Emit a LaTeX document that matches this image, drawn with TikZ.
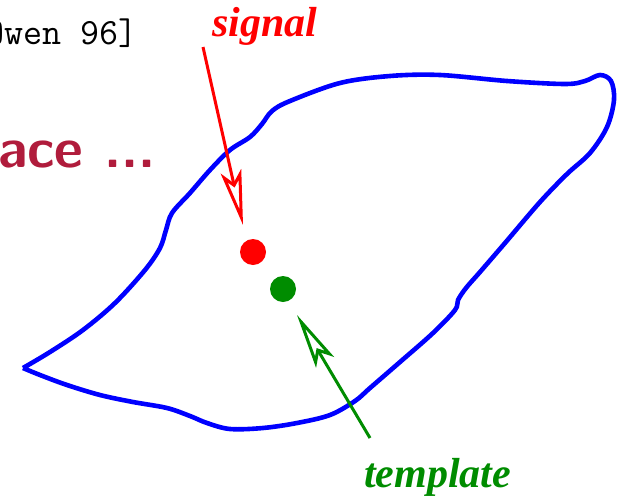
\documentclass[tikz,border=0pt]{standalone}
\usepackage{fontspec}
\newfontfamily\labelfont{Liberation Serif}
\usepackage{tikz}
\usetikzlibrary{arrows.meta, calc}
\definecolor{blobline}{RGB}{0,0,255}
\definecolor{sigred}{RGB}{255,0,0}
\definecolor{tmplgreen}{RGB}{0,140,0}
\definecolor{headred}{HTML}{B01C3C}

\begin{document}
\begin{tikzpicture}[
    x=1pt, y=-1pt,
    lbl/.style={font=\labelfont\bfseries\itshape\fontsize{42}{46}\selectfont,
      inner sep=0pt, anchor=base west},
    dot/.style={circle, inner sep=0pt, minimum size=26pt},
    pointer/.style={-{Stealth[open, length=55pt, width=21pt, inset=12pt]},
      line width=3pt},
    blob/.style={draw=blobline, line width=4.6pt, line join=round}]
\useasboundingbox (0,0) rectangle (623,498);
\clip (0,0) rectangle (623,498);

% --- Header ---
\node[font=\ttfamily\fontsize{37}{40}\selectfont, inner sep=0pt, anchor=base west]
  (cite) at (-34,44) {[Owen 96]};
\node[font=\sffamily\bfseries\fontsize{56}{60}\selectfont, text=headred,
  inner sep=0pt, anchor=base west] (head) at (-2,167) {ace ...};

% --- Space ---
\draw[blob] plot[smooth, tension=0.55] coordinates {
  (23,368) (50,352) (83,330) (115,303) (145,270) (160,248) (166,230)
  (172,213) (190,193) (210,170) (230,150) (250,137) (262,124) (272,111)
  (290,101) (340,83) (390,76) (440,75) (507,81) (565,84) (585,81)
  (600,75) (611,81) (614,100) (607,127) (590,153) (567,174) (540,202)
  (505,243) (480,272) (466,288) (458,300) (455,310) (433,333) (400,362)
  (370,388) (355,401) (330,415) (297,423) (263,428) (230,429) (207,423)
  (190,416) (167,408) (133,402) (100,395) (67,385) (40,375) (23,368)};

% --- Signal \& template ---
\node[dot, fill=sigred] (sigdot) at (253,252) {};
\node[dot, fill=tmplgreen] (tmpldot) at (283,289) {};
\node[lbl, text=sigred] (sig) at (212,36) {signal};
\node[lbl, text=tmplgreen] (tmpl) at (364,487) {template};

\coordinate (sigtail) at ($(sig.base west)+(-9,11)$);
\coordinate (sigtip) at ($(sigdot)+(-10,-27)$);
\draw[pointer, sigred] (sigtail) -- (sigtip);
\coordinate (tmpltail) at ($(tmpl.base west)+(6,-49)$);
\coordinate (tmpltip) at ($(tmpldot)+(14,26)$);
\draw[pointer, tmplgreen] (tmpltail) -- (tmpltip);
\end{tikzpicture}
\end{document}
